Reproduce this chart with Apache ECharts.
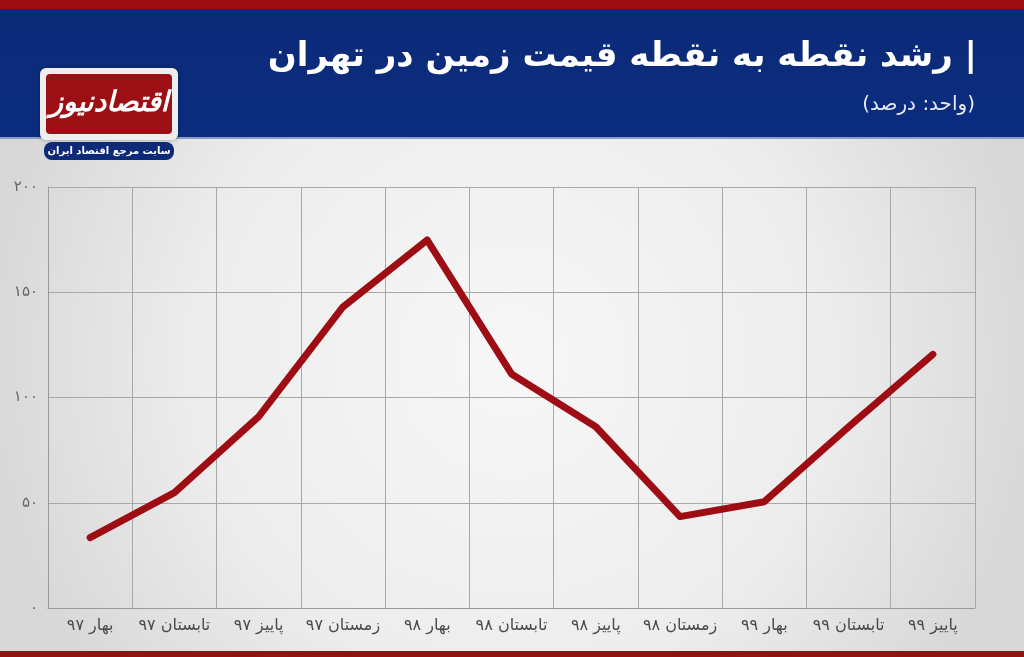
<!DOCTYPE html>
<html>
<head>
<meta charset="utf-8">
<script src="https://cdn.jsdelivr.net/npm/echarts@6/dist/echarts.min.js"></script>
<style>
html,body{margin:0;padding:0;}
#chart{width:1024px;height:657px;}
</style>
</head>
<body>
<div id="chart" dir="rtl"></div>
<script>
var categories = ['بهار ۹۷','تابستان ۹۷','پاییز ۹۷','زمستان ۹۷','بهار ۹۸','تابستان ۹۸','پاییز ۹۸','زمستان ۹۸','بهار ۹۹','تابستان ۹۹','پاییز ۹۹'];
var growth = [33.4, 54.8, 90.9, 143, 174.8, 111.2, 86.1, 43.4, 50.5, 86, 120.5];
var yTickValues = [0, 50, 100, 150, 200];
var yTickLabels = ['۰','۵۰','۱۰۰','۱۵۰','۲۰۰'];
var titleText = '| رشد نقطه به نقطه قیمت زمین در تهران';
var subtitleText = '(واحد: درصد)';
var logoText = 'اقتصادنیوز';
var logoSub = 'سایت مرجع اقتصاد ایران';

var chart = echarts.init(document.getElementById('chart'));
var option = {
  animation: false,
  backgroundColor: {
    type: 'radial', x: 0.5, y: 0.55, r: 0.8,
    colorStops: [{offset: 0, color: '#f7f7f7'}, {offset: 0.6, color: '#ededed'}, {offset: 1, color: '#d8d8d8'}]
  },
  grid: {left: 48, right: 49, top: 187, bottom: 49, containLabel: false},
  xAxis: {
    type: 'category',
    data: categories,
    boundaryGap: true,
    axisLine: {show: true, lineStyle: {color: '#9a9a9a', width: 1}},
    axisTick: {show: false},
    splitLine: {show: true, lineStyle: {color: '#a8a8a8', width: 1}},
    axisLabel: {color: '#4a4a4a', fontSize: 16, margin: 10, fontFamily: 'DejaVu Sans', interval: 0}
  },
  yAxis: {
    type: 'value', min: 0, max: 200, interval: 50,
    axisLine: {show: true, lineStyle: {color: '#9a9a9a', width: 1}},
    axisTick: {show: false},
    splitLine: {show: true, lineStyle: {color: '#a8a8a8', width: 1}},
    axisLabel: {
      color: '#666', fontSize: 15, margin: 10, fontFamily: 'DejaVu Sans',
      formatter: function (v) { var i = yTickValues.indexOf(v); return i >= 0 ? yTickLabels[i] : ''; }
    }
  },
  series: [{
    type: 'line',
    data: growth,
    showSymbol: false,
    symbol: 'none',
    lineStyle: {color: '#9e0d13', width: 7, cap: 'round', join: 'round'},
    z: 5
  }],
  graphic: [
    {type: 'rect', left: 0, top: 0, shape: {width: 1024, height: 9}, style: {fill: '#9c0c12'}, z: 10},
    {type: 'rect', left: 0, top: 9, shape: {width: 1024, height: 128},
     style: {fill: {type: 'linear', x: 0, y: 0, x2: 0, y2: 1, colorStops: [{offset: 0, color: '#0c2a78'}, {offset: 1, color: '#0b2c7f'}]}}, z: 10},
    {type: 'rect', left: 0, top: 137, shape: {width: 1024, height: 2}, style: {fill: '#8a9cc8'}, z: 10},
    {type: 'rect', left: 0, top: 651, shape: {width: 1024, height: 6}, style: {fill: '#9c0c12'}, z: 10},
    {type: 'text', right: 47, top: 40, style: {text: titleText, fill: '#ffffff', font: 'bold 34px "DejaVu Sans"', align: 'right'}, z: 20},
    {type: 'text', right: 49, top: 95, style: {text: subtitleText, fill: '#e6e9f2', font: '20px "DejaVu Sans"', align: 'right'}, z: 20},
    {type: 'rect', left: 40, top: 68, shape: {width: 138, height: 72, r: 6}, style: {fill: '#eeeeee', shadowBlur: 4, shadowColor: 'rgba(0,0,0,0.3)'}, z: 20},
    {type: 'rect', left: 46, top: 74, shape: {width: 126, height: 60, r: 4}, style: {fill: '#9c0f14'}, z: 21},
    {type: 'text', x: 109, y: 104, style: {text: logoText, fill: '#ffffff', font: 'bold italic 28px "DejaVu Sans"', align: 'center', verticalAlign: 'middle'}, z: 22},
    {type: 'rect', left: 44, top: 142, shape: {width: 130, height: 18, r: 8}, style: {fill: '#0c2a78'}, z: 21},
    {type: 'text', x: 109, y: 151, style: {text: logoSub, fill: '#ffffff', font: 'bold 10px "DejaVu Sans"', align: 'center', verticalAlign: 'middle'}, z: 22}
  ]
};
chart.setOption(option);
</script>
</body>
</html>
